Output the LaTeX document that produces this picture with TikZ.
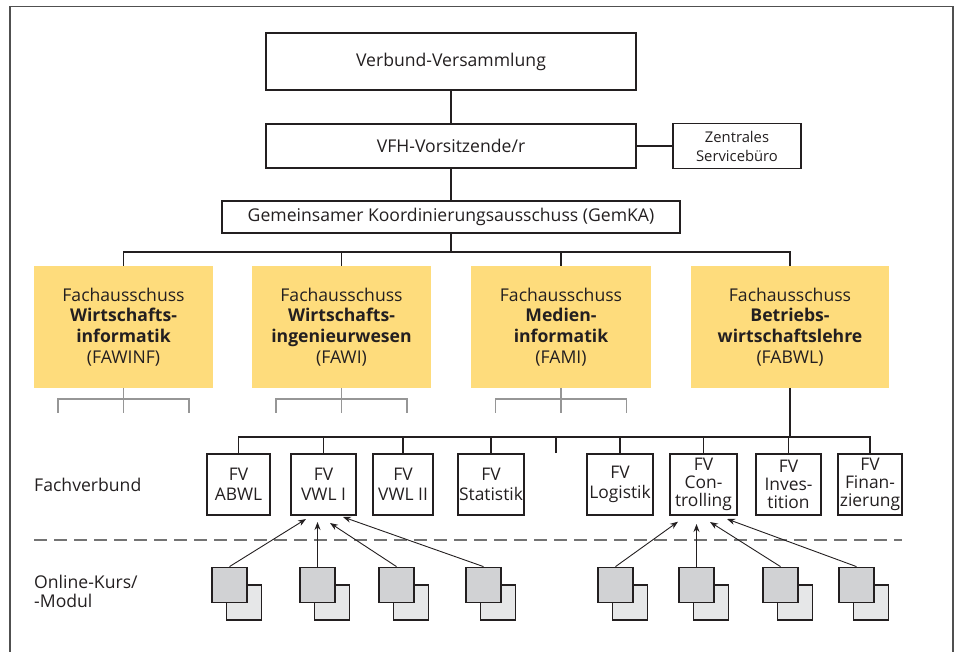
\documentclass[tikz,border=0pt]{standalone}
\usepackage{fontspec}
\setmainfont{Open Sans}
\usetikzlibrary{arrows.meta,calc}
\definecolor{ink}{RGB}{35,31,32}
\definecolor{fayellow}{RGB}{254,220,124}
\definecolor{treegray}{RGB}{150,150,150}
\definecolor{dashgray}{RGB}{115,115,115}
\definecolor{framegray}{RGB}{80,80,80}
\definecolor{sqdark}{RGB}{209,210,212}
\definecolor{sqlight}{RGB}{230,231,232}
\begin{document}
\begin{tikzpicture}[x=1pt,y=-1pt,
  txt/.style={text=ink, font=\fontsize{17.6}{20.5}\selectfont},
  box/.style={txt, draw=ink, line width=1.8pt, inner sep=0pt, align=center},
  fabox/.style={txt, fill=fayellow, inner sep=0pt, align=center, minimum height=121.7, font=\fontsize{17.6}{20.7}\selectfont},
  fvbox/.style={box, minimum height=61, font=\fontsize{17.4}{19.5}\selectfont},
  conn/.style={draw=ink, line width=1.8pt},
  gtree/.style={draw=treegray, line width=1.8pt},
  sqd/.style={draw=ink, line width=1.8pt, fill=sqdark, minimum width=35, minimum height=35, inner sep=0pt},
  sql/.style={draw=ink, line width=1.8pt, fill=sqlight, minimum width=35, minimum height=35, inner sep=0pt},
  arr/.style={draw=ink, line width=0.9pt, -{Stealth[length=8pt,width=6pt]}},
  frame/.style={draw=framegray, line width=1.4pt},
  lbl/.style={txt, inner sep=0pt, align=left}
]
\useasboundingbox (0,0) rectangle (960,652);

% frame
\coordinate (fbl) at (10,652);
\coordinate (ftl) at (10,6.5);
\coordinate (ftr) at (953,6.5);
\coordinate (fbr) at (953,652);
\draw[frame] (fbl) -- (ftl) -- (ftr) -- (fbr);

% top boxes
\node[box, minimum width=370, minimum height=57] (vv) at (451,61.5) {Verbund-Versammlung};
\node[box, minimum width=370, minimum height=44] (vfh) at (451,146) {VFH-Vorsitzende/r};
\node[box, minimum width=128, minimum height=45, font=\fontsize{14.8}{19}\selectfont] (zs) at (737,146) {Zentrales\\Servicebüro};
\node[box, minimum width=458, minimum height=32] (gem) at (451,217) {Gemeinsamer Koordinierungsausschuss (GemKA)};

\draw[conn] (vv.south) -- (vfh.north);
\draw[conn] (vfh.east) -- (zs.west);
\draw[conn] (vfh.south) -- (gem.north);

% Fachausschuesse
\node[fabox, minimum width=179] (fa1) at (123.5,326.8) {Fachausschuss\\\textbf{Wirtschafts-}\\\textbf{informatik}\\(FAWINF)};
\node[fabox, minimum width=179] (fa2) at (341.5,326.8) {Fachausschuss\\\textbf{Wirtschafts-}\\\textbf{ingenieurwesen}\\(FAWI)};
\node[fabox, minimum width=180] (fa3) at (561,326.8) {Fachausschuss\\\textbf{Medien-}\\\textbf{informatik}\\(FAMI)};
\node[fabox, minimum width=198] (fa4) at (790,326.8) {Fachausschuss\\\textbf{Betriebs-}\\\textbf{wirtschaftslehre}\\(FABWL)};

\draw[conn] (gem.south) -- ++(0,19);
\draw[conn] (fa1.north) -- ++(0,-14) -| (fa4.north);
\draw[conn] (fa2.north) -- ++(0,-14);
\draw[conn] (fa3.north) -- ++(0,-14);

% gray sub-trees
\foreach \f in {fa1,fa2,fa3}{
  \draw[gtree] (\f.south) -- ++(0,25);
  \draw[gtree] ($(\f.south)+(-65.5,25)$) -- ++(0,-14) -- ++(131,0) -- ++(0,14);
}

% Fachverbuende
\node[fvbox, minimum width=63] (fv1) at (238.5,484.5) {FV\\ABWL};
\node[fvbox, minimum width=65] (fv2) at (323.5,484.5) {FV\\VWL I};
\node[fvbox, minimum width=60] (fv3) at (403,484.5) {FV\\VWL II};
\node[fvbox, minimum width=66] (fv4) at (491,484.5) {FV\\Statistik};
\node[fvbox, minimum width=66] (fv5) at (620,484.5) {FV\\Logistik};
\node[fvbox, minimum width=67, font=\fontsize{17.4}{18}\selectfont] (fv6) at (703.5,484.5) {FV\\Con-\\trolling};
\node[fvbox, minimum width=65, font=\fontsize{17.4}{18}\selectfont] (fv7) at (788.5,484.5) {FV\\Inves-\\tition};
\node[fvbox, minimum width=64, font=\fontsize{17.4}{18}\selectfont] (fv8) at (870,484.5) {FV\\Finan-\\zierung};

\coordinate (busy) at (0,437);
\coordinate (stub) at (556,453);
\draw[conn] (fa4.south) -- (fa4.south |- busy);
\draw[conn] (fv1.north) -- (fv1.north |- busy) -| (fv8.north);
\foreach \f in {fv2,fv3,fv4,fv5,fv6,fv7}{
  \draw[conn] (\f.north) -- (\f.north |- busy);
}
\draw[conn] (stub) -- (stub |- busy);

% labels
\node[lbl, anchor=west] (lfv) at (34,485) {Fachverbund};
\node[lbl, anchor=west, font=\fontsize{17.6}{19}\selectfont] (lok) at (34,591) {Online-Kurs/\\-Modul};

% dashed separator
\coordinate (d1) at (34,540);
\coordinate (d2) at (902,540);
\draw[draw=dashgray, line width=1.4pt, dash pattern=on 13pt off 7pt] (d1) -- (d2);

% module icons
\foreach \i/\L in {1/212,2/300,3/379,4/466,5/598,6/679,7/763,8/839}{
  \node[sql] (ml\i) at (\L+32,602.5) {};
  \node[sqd] (md\i) at (\L+17.5,585) {};
}

% arrow targets
\coordinate (t1) at (306,519);
\coordinate (t2) at (317.5,522);
\coordinate (t3) at (330,523);
\coordinate (t4) at (343,517);
\coordinate (t5) at (678,521.7);
\coordinate (t6) at (696.5,524);
\coordinate (t7) at (710,522);
\coordinate (t8) at (727,519);
\foreach \i in {1,...,8}{
  \draw[arr] (md\i.north) -- (t\i);
}
\end{tikzpicture}
\end{document}
